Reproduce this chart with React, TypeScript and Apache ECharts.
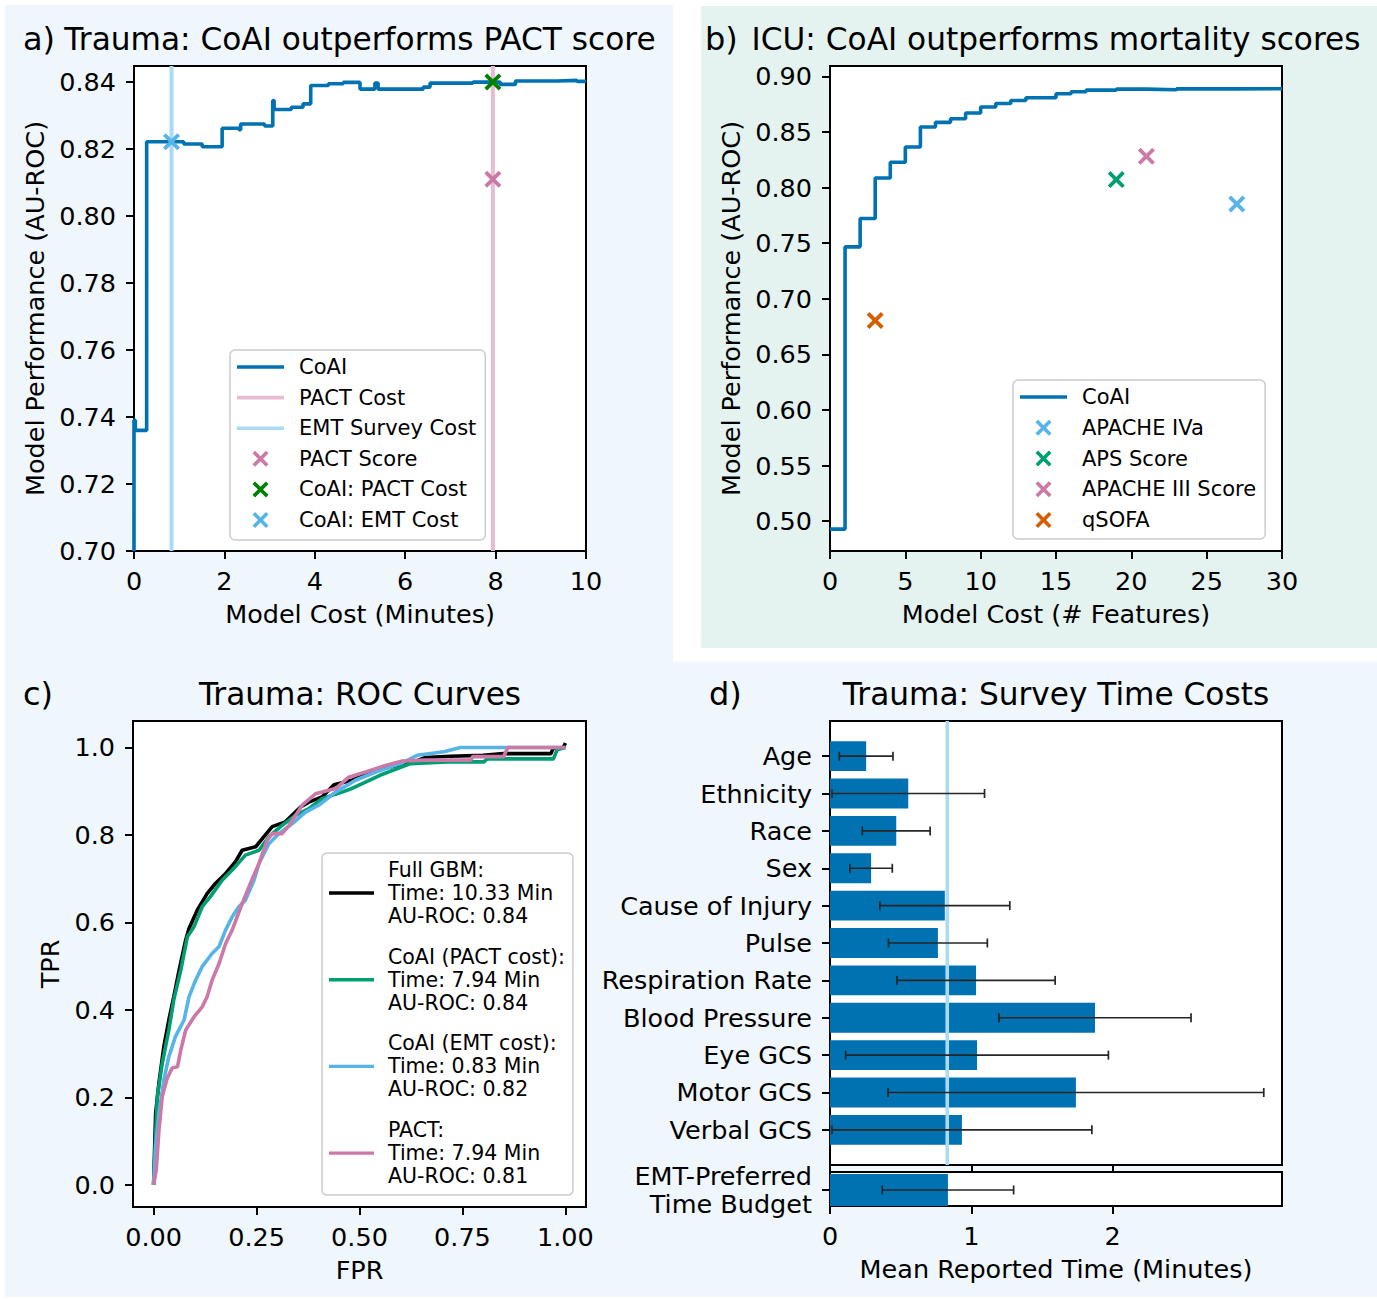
import React, { useEffect, useRef } from "react";
import * as echarts from "echarts";

const FONT = "DejaVu Sans";

// ---------- Panel a: Trauma, CoAI vs PACT ----------
const aCost = [0, 0, 0.03, 0.28, 1.1, 1.51, 1.95, 2.32, 2.36, 2.89, 3.07, 3.1, 3.48, 3.74, 3.91, 4.3, 4.63, 5.0, 5.33, 5.4, 6.4, 6.55, 7.5, 8.1, 8.44, 9.36, 9.8, 10];
const aAuc = [0.7, 0.739, 0.736, 0.8222, 0.8215, 0.8207, 0.8262, 0.8258, 0.8275, 0.8269, 0.8345, 0.8318, 0.8325, 0.8335, 0.839, 0.8395, 0.8399, 0.8379, 0.8397, 0.8379, 0.8385, 0.8397, 0.84, 0.8393, 0.8403, 0.8405, 0.8402, 0.8402];
const pactCost = 7.94;
const emtCost = 0.83;
const pactScoreAuc = 0.811;
const coaiPactAuc = 0.84;
const coaiEmtAuc = 0.8222;
const aYTicks = [0.7, 0.72, 0.74, 0.76, 0.78, 0.8, 0.82, 0.84];
const aXTicks = [0, 2, 4, 6, 8, 10];

// ---------- Panel b: ICU ----------
const bFeatures = [0, 1, 2, 3, 4, 5, 6, 7, 8, 9, 10, 11, 12, 13, 15, 16, 17, 19, 21, 23, 27, 30];
const bAuc = [0.4928, 0.7467, 0.7722, 0.8087, 0.8228, 0.8365, 0.8545, 0.8587, 0.862, 0.8671, 0.8725, 0.8757, 0.8784, 0.8808, 0.8844, 0.8862, 0.8877, 0.8886, 0.888, 0.8888, 0.889, 0.8893];
const bScoreNames = ["APACHE IVa", "APS Score", "APACHE III Score", "qSOFA"];
const bScoreFeatures = [27, 19, 21, 3];
const bScoreAuc = [0.7853, 0.8072, 0.8281, 0.6805];
const bYTicks = [0.5, 0.55, 0.6, 0.65, 0.7, 0.75, 0.8, 0.85, 0.9];
const bXTicks = [0, 5, 10, 15, 20, 25, 30];

// ---------- Panel c: ROC curves ----------
const rocNames = [
  "Full GBM:\nTime: 10.33 Min\nAU-ROC: 0.84",
  "CoAI (PACT cost):\nTime: 7.94 Min\nAU-ROC: 0.84",
  "CoAI (EMT cost):\nTime: 0.83 Min\nAU-ROC: 0.82",
  "PACT:\nTime: 7.94 Min\nAU-ROC: 0.81",
];
const gbmFpr = [0, 0.0008, 0.005, 0.013, 0.025, 0.037, 0.049, 0.062, 0.078, 0.086, 0.106, 0.13, 0.15, 0.175, 0.199, 0.215, 0.248, 0.268, 0.288, 0.32, 0.357, 0.377, 0.409, 0.438, 0.482, 0.519, 0.571, 0.632, 0.66, 0.72, 0.8, 0.85, 0.965, 0.97, 0.995, 1.0];
const gbmTpr = [0, 0.0, 0.164, 0.233, 0.317, 0.377, 0.43, 0.491, 0.56, 0.586, 0.628, 0.666, 0.689, 0.712, 0.739, 0.765, 0.773, 0.796, 0.819, 0.83, 0.864, 0.875, 0.887, 0.915, 0.925, 0.942, 0.955, 0.967, 0.977, 0.98, 0.982, 0.986, 0.986, 0.998, 1.0, 1.01];
const pactCoaiFpr = [0, 0.009, 0.021, 0.037, 0.049, 0.066, 0.082, 0.098, 0.118, 0.138, 0.167, 0.191, 0.223, 0.256, 0.28, 0.312, 0.345, 0.377, 0.409, 0.458, 0.478, 0.551, 0.624, 0.713, 0.802, 0.81, 0.971, 0.98, 1.0];
const pactCoaiTpr = [0, 0.202, 0.278, 0.354, 0.423, 0.491, 0.567, 0.59, 0.636, 0.659, 0.697, 0.72, 0.754, 0.765, 0.796, 0.822, 0.845, 0.86, 0.883, 0.898, 0.905, 0.937, 0.963, 0.967, 0.967, 0.974, 0.974, 0.995, 1.0];
const emtCoaiFpr = [0, 0.005, 0.013, 0.025, 0.037, 0.053, 0.074, 0.086, 0.102, 0.118, 0.142, 0.159, 0.175, 0.191, 0.207, 0.223, 0.244, 0.256, 0.28, 0.304, 0.337, 0.369, 0.401, 0.442, 0.49, 0.539, 0.587, 0.6, 0.64, 0.705, 0.745, 1.0];
const emtCoaiTpr = [0, 0.088, 0.164, 0.24, 0.293, 0.339, 0.377, 0.43, 0.468, 0.499, 0.529, 0.545, 0.583, 0.613, 0.636, 0.651, 0.697, 0.735, 0.78, 0.803, 0.826, 0.852, 0.868, 0.898, 0.925, 0.944, 0.959, 0.963, 0.982, 0.99, 1.0, 1.0];
const pactFpr = [0, 0.0065, 0.013, 0.021, 0.033, 0.045, 0.058, 0.066, 0.078, 0.098, 0.118, 0.13, 0.142, 0.159, 0.175, 0.191, 0.203, 0.215, 0.235, 0.256, 0.276, 0.288, 0.312, 0.329, 0.361, 0.393, 0.442, 0.474, 0.515, 0.563, 0.604, 0.66, 0.77, 0.775, 0.85, 0.86, 1.0];
const pactTpr = [0, 0.034, 0.125, 0.202, 0.244, 0.267, 0.27, 0.308, 0.354, 0.384, 0.407, 0.43, 0.468, 0.506, 0.552, 0.583, 0.613, 0.643, 0.689, 0.735, 0.788, 0.803, 0.803, 0.822, 0.868, 0.894, 0.906, 0.932, 0.944, 0.959, 0.969, 0.971, 0.971, 0.979, 0.979, 1.0, 1.0];
const cXTicks = [0, 0.25, 0.5, 0.75, 1.0];
const cYTicks = [0, 0.2, 0.4, 0.6, 0.8, 1.0];

// ---------- Panel d: survey time costs ----------
const dFeatures = ["Age", "Ethnicity", "Race", "Sex", "Cause of Injury", "Pulse", "Respiration Rate", "Blood Pressure", "Eye GCS", "Motor GCS", "Verbal GCS"];
const dMean = [0.256, 0.554, 0.469, 0.291, 0.813, 0.764, 1.034, 1.876, 1.041, 1.741, 0.934];
const dErr = [0.19, 0.54, 0.24, 0.15, 0.46, 0.35, 0.56, 0.68, 0.93, 1.33, 0.92];
const budgetLabel = "EMT-Preferred\nTime Budget";
const budgetMean = 0.835;
const budgetErr = 0.465;
const dXTicks = [0, 1, 2];

// ---------- styling ----------
const C_BLUE = "#0072B2";
const C_SKY = "#56B4E9";
const C_PINK = "#CC79A7";
const C_GREEN = "#009E73";
const C_ORANGE = "#D55E00";
const C_SKY_LIGHT = "#abdaf4";
const C_PINK_LIGHT = "#e6bcd3";
const bScoreColors = [C_SKY, C_GREEN, C_PINK, C_ORANGE];
const XPATH = "path://M0,1.6L1.6,0L5,3.4L8.4,0L10,1.6L6.6,5L10,8.4L8.4,10L5,6.6L1.6,10L0,8.4L3.4,5Z";
const LINEICON = "path://M0,0L47,0L47,3.6L0,3.6Z";
const TICK = 25.5;
const TITLE = 31.2;

function zip(xs: number[], ys: number[]) {
  return xs.map((x, i) => [x, ys[i]]);
}

function valueAxis(o: any) {
  return {
    type: "value",
    gridIndex: o.grid,
    min: o.min,
    max: o.max,
    inverse: !!o.inverse,
    name: o.name || "",
    nameLocation: "middle",
    nameGap: o.nameGap || 0,
    nameTextStyle: { color: "#000", fontSize: TICK, fontFamily: FONT, lineHeight: 30 },
    axisLine: { show: true, onZero: false, lineStyle: { color: "#000", width: 2 } },
    axisTick: { show: true, inside: false, length: 8, customValues: o.ticks, lineStyle: { color: "#000", width: 2 } },
    axisLabel: {
      show: o.showLabels !== false,
      customValues: o.ticks,
      formatter: o.fmt,
      margin: o.margin,
      color: "#000",
      fontSize: TICK,
      fontFamily: FONT,
      lineHeight: o.lineHeight || 30,
    },
    splitLine: { show: false },
    axisPointer: { show: false },
  };
}

function lineSeries(name: string, data: number[][], color: string, xi: number, extra: any = {}) {
  return {
    type: "line",
    name,
    xAxisIndex: xi,
    yAxisIndex: xi,
    data,
    symbol: "none",
    showSymbol: false,
    lineStyle: { color, width: 3.6 },
    itemStyle: { color },
    z: 3,
    ...extra,
  };
}

function xSeries(name: string, pt: number[], color: string, xi: number) {
  return {
    type: "scatter",
    name,
    xAxisIndex: xi,
    yAxisIndex: xi,
    data: [pt],
    symbol: XPATH,
    symbolSize: 17,
    symbolKeepAspect: true,
    itemStyle: { color, opacity: 1 },
    z: 5,
  };
}

function renderBar(params: any, api: any) {
  const idx = api.value(0);
  const mean = api.value(1);
  const p0 = api.coord([0, idx]);
  const p1 = api.coord([mean, idx]);
  const h = Math.abs(api.size([0, 0.8])[1]);
  return {
    type: "rect",
    shape: { x: p0[0], y: p0[1] - h / 2, width: p1[0] - p0[0], height: h },
    style: { fill: C_BLUE },
  };
}

function renderErr(params: any, api: any) {
  const idx = api.value(0);
  const mean = api.value(1);
  const err = api.value(2);
  const a = api.coord([mean - err, idx]);
  const b = api.coord([mean + err, idx]);
  const cap = 4.5;
  const st = { stroke: "#262626", lineWidth: 1.7 };
  return {
    type: "group",
    children: [
      { type: "line", shape: { x1: a[0], y1: a[1], x2: b[0], y2: b[1] }, style: st },
      { type: "line", shape: { x1: a[0], y1: a[1] - cap, x2: a[0], y2: a[1] + cap }, style: st },
      { type: "line", shape: { x1: b[0], y1: b[1] - cap, x2: b[0], y2: b[1] + cap }, style: st },
    ],
  };
}

function legendBox(o: any) {
  return {
    show: true,
    orient: "vertical",
    left: o.left,
    top: o.top,
    data: o.data,
    itemWidth: o.itemWidth || 47,
    itemHeight: 16,
    itemGap: o.itemGap,
    padding: o.padding,
    backgroundColor: "#fff",
    borderColor: "#cccccc",
    borderWidth: 1.5,
    borderRadius: 5,
    selectedMode: false,
    itemStyle: { borderWidth: 0 },
    textStyle: {
      fontSize: o.fontSize || 21,
      fontFamily: FONT,
      color: "#000",
      lineHeight: o.lineHeight || 24,
      padding: [0, 0, 0, o.textPad || 10],
    },
  };
}

function lineItem(name: string) {
  return { name, icon: LINEICON };
}

function txt(text: string, x: number, y: number, size: number, align = "center") {
  return {
    type: "text",
    x,
    y,
    z: 100,
    style: { text, fontSize: size, fontFamily: FONT, fill: "#000", align, verticalAlign: "middle" },
  };
}

export default function App() {
  const ref = useRef<HTMLDivElement>(null);

  useEffect(() => {
    if (!ref.current) return;
    const chart = echarts.init(ref.current, null, { renderer: "svg" });

    const gridStyle = { show: true, backgroundColor: "#fff", borderColor: "#000", borderWidth: 2, containLabel: false, outerBoundsMode: "none" };

    const option: any = {
      animation: false,
      backgroundColor: "#fff",
      textStyle: { fontFamily: FONT },
      graphic: [
        { type: "rect", z: -100, shape: { x: 5, y: 5, width: 668, height: 660 }, style: { fill: "#eff6fc" }, silent: true },
        { type: "rect", z: -100, shape: { x: 5, y: 662, width: 1372, height: 635 }, style: { fill: "#eff6fc" }, silent: true },
        { type: "rect", z: -100, shape: { x: 701, y: 6, width: 676, height: 642 }, style: { fill: "#e5f3f0" }, silent: true },
        txt("a)", 23, 39, 32, "left"),
        txt("Trauma: CoAI outperforms PACT score", 360, 38.5, TITLE),
        txt("b)", 705, 39, 32, "left"),
        txt("ICU: CoAI outperforms mortality scores", 1056, 38.5, TITLE),
        txt("c)", 23, 694, 32, "left"),
        txt("Trauma: ROC Curves", 360, 694, TITLE),
        txt("d)", 709, 694, 32, "left"),
        txt("Trauma: Survey Time Costs", 1056, 694, TITLE),
      ],
      grid: [
        { left: 134, top: 66, width: 452, height: 485, ...gridStyle },
        { left: 830, top: 66, width: 452, height: 485, ...gridStyle },
        { left: 133, top: 721, width: 453, height: 486, ...gridStyle },
        { left: 830, top: 721, width: 452, height: 444, ...gridStyle },
        { left: 830, top: 1172, width: 452, height: 34, ...gridStyle },
      ],
      xAxis: [
        valueAxis({ grid: 0, min: 0, max: 10, ticks: aXTicks, name: "Model Cost (Minutes)", nameGap: 48, margin: 15 }),
        valueAxis({ grid: 1, min: 0, max: 30, ticks: bXTicks, name: "Model Cost (# Features)", nameGap: 48, margin: 15 }),
        valueAxis({ grid: 2, min: -0.05, max: 1.05, ticks: cXTicks, name: "FPR", nameGap: 48, margin: 15, fmt: (v: number) => v.toFixed(2) }),
        valueAxis({ grid: 3, min: 0, max: 3.2, ticks: dXTicks, showLabels: false }),
        valueAxis({ grid: 4, min: 0, max: 3.2, ticks: dXTicks, name: "Mean Reported Time (Minutes)", nameGap: 48, margin: 15 }),
      ],
      yAxis: [
        valueAxis({ grid: 0, min: 0.7, max: 0.8448, ticks: aYTicks, name: "Model Performance (AU-ROC)", nameGap: 84, margin: 18, fmt: (v: number) => v.toFixed(2) }),
        valueAxis({ grid: 1, min: 0.4731, max: 0.9094, ticks: bYTicks, name: "Model Performance (AU-ROC)", nameGap: 84, margin: 18, fmt: (v: number) => v.toFixed(2) }),
        valueAxis({ grid: 2, min: -0.0505, max: 1.0605, ticks: cYTicks, name: "TPR", nameGap: 68, margin: 18, fmt: (v: number) => v.toFixed(1) }),
        valueAxis({ grid: 3, min: -0.94, max: 10.94, inverse: true, ticks: dFeatures.map((_, i) => i), margin: 18, fmt: (v: number) => dFeatures[Math.round(v)] }),
        valueAxis({ grid: 4, min: -0.4, max: 0.45, ticks: [0], margin: 18, lineHeight: 28, fmt: () => budgetLabel }),
      ],
      legend: [
        legendBox({
          left: 230, top: 350, itemGap: 6.6, padding: [5, 9, 8, 7],
          data: [lineItem("CoAI"), lineItem("PACT Cost"), lineItem("EMT Survey Cost"), "PACT Score", "CoAI: PACT Cost", "CoAI: EMT Cost"],
        }),
        legendBox({
          left: 1013, top: 380, itemGap: 6.75, padding: [5, 9, 7, 7],
          data: [lineItem("CoAI"), ...bScoreNames],
        }),
        legendBox({
          left: 322, top: 853, itemGap: 17.7, padding: [5.5, 8, 7.5, 7], itemWidth: 45, textPad: 9,
          fontSize: 20.5, lineHeight: 23, data: rocNames.map(lineItem),
        }),
      ],
      series: [
        // panel a
        lineSeries("PACT Cost", [[pactCost, 0.7], [pactCost, 0.8448]], C_PINK_LIGHT, 0, { z: 2, lineStyle: { color: C_PINK_LIGHT, width: 4 } }),
        lineSeries("EMT Survey Cost", [[emtCost, 0.7], [emtCost, 0.8448]], C_SKY_LIGHT, 0, { z: 2, lineStyle: { color: C_SKY_LIGHT, width: 4 } }),
        lineSeries("CoAI", zip(aCost, aAuc), C_BLUE, 0, { step: "end" }),
        xSeries("PACT Score", [pactCost, pactScoreAuc], C_PINK, 0),
        xSeries("CoAI: PACT Cost", [pactCost, coaiPactAuc], "#008000", 0),
        xSeries("CoAI: EMT Cost", [emtCost, coaiEmtAuc], C_SKY, 0),
        // panel b
        lineSeries("CoAI", zip(bFeatures, bAuc), C_BLUE, 1, { step: "end" }),
        ...bScoreNames.map((n, i) => xSeries(n, [bScoreFeatures[i], bScoreAuc[i]], bScoreColors[i], 1)),
        // panel c
        lineSeries(rocNames[0], zip(gbmFpr, gbmTpr), "#000000", 2),
        lineSeries(rocNames[1], zip(pactCoaiFpr, pactCoaiTpr), C_GREEN, 2),
        lineSeries(rocNames[2], zip(emtCoaiFpr, emtCoaiTpr), C_SKY, 2),
        lineSeries(rocNames[3], zip(pactFpr, pactTpr), C_PINK, 2),
        // panel d
        {
          type: "custom",
          name: "Mean time",
          xAxisIndex: 3,
          yAxisIndex: 3,
          renderItem: renderBar,
          encode: { x: 1, y: 0 },
          data: dMean.map((m, i) => [i, m, dErr[i]]),
          z: 2,
        },
        lineSeries("EMT budget", [[emtCost, -0.94], [emtCost, 10.94]], C_SKY_LIGHT, 3, { z: 3, lineStyle: { color: C_SKY_LIGHT, width: 3.6 } }),
        {
          type: "custom",
          name: "Std",
          xAxisIndex: 3,
          yAxisIndex: 3,
          renderItem: renderErr,
          encode: { x: 1, y: 0 },
          data: dMean.map((m, i) => [i, m, dErr[i]]),
          z: 4,
        },
        {
          type: "custom",
          name: "Budget",
          xAxisIndex: 4,
          yAxisIndex: 4,
          renderItem: renderBar,
          encode: { x: 1, y: 0 },
          data: [[0, budgetMean, budgetErr]],
          z: 2,
        },
        {
          type: "custom",
          name: "Budget std",
          xAxisIndex: 4,
          yAxisIndex: 4,
          renderItem: renderErr,
          encode: { x: 1, y: 0 },
          data: [[0, budgetMean, budgetErr]],
          z: 4,
        },
      ],
    };

    chart.setOption(option);
    return () => chart.dispose();
  }, []);

  return <div ref={ref} style={{ position: "absolute", left: 0, top: 0, width: 1377, height: 1299 }} />;
}
